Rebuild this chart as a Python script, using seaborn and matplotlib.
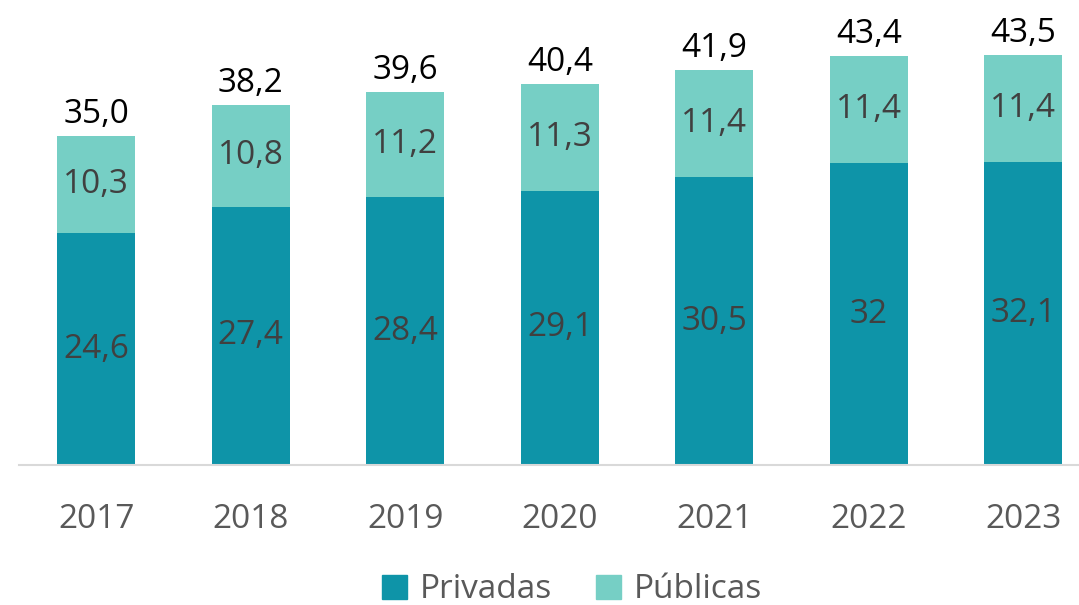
import matplotlib
matplotlib.use('Agg')
import matplotlib.pyplot as plt
import seaborn as sns
import pandas as pd
from matplotlib.patches import Patch

# Datos
anios = ['2017', '2018', '2019', '2020', '2021', '2022', '2023']
privadas = [24.6, 27.4, 28.4, 29.1, 30.5, 32.0, 32.1]
publicas = [10.3, 10.8, 11.2, 11.3, 11.4, 11.4, 11.4]
privadas_txt = ['24,6', '27,4', '28,4', '29,1', '30,5', '32', '32,1']
publicas_txt = ['10,3', '10,8', '11,2', '11,3', '11,4', '11,4', '11,4']
totales_txt = ['35,0', '38,2', '39,6', '40,4', '41,9', '43,4', '43,5']

col_priv = '#0E94A8'
col_pub = '#76CFC5'

sns.set_theme(style='white')
plt.rcParams['font.family'] = ['Open Sans', 'DejaVu Sans']

df = pd.DataFrame({'anio': anios, 'privadas': privadas, 'publicas': publicas})
df['total'] = df['privadas'] + df['publicas']

fig = plt.figure(figsize=(10.79, 6.05), dpi=100)
ax = fig.add_axes([19 / 1079, 140 / 605, 1060 / 1079, 462 / 605])

# Barras apiladas: total (Públicas) y encima Privadas
sns.barplot(data=df, x='anio', y='total', color=col_pub, width=0.505,
            saturation=1, linewidth=0, ax=ax)
sns.barplot(data=df, x='anio', y='privadas', color=col_priv, width=0.505,
            saturation=1, linewidth=0, ax=ax)

for i in range(len(anios)):
    ax.text(i, privadas[i] / 2, privadas_txt[i], ha='center', va='center',
            fontsize=24, color='#404040')
    ax.text(i, privadas[i] + publicas[i] / 2, publicas_txt[i], ha='center',
            va='center', fontsize=24, color='#404040')
    ax.text(i, df['total'][i] + 0.5, totales_txt[i], ha='center',
            va='bottom', fontsize=24, color='black')

ax.set_xlim(-0.5, 6.36)
ax.set_ylim(0, 49)
ax.set_xlabel('')
ax.set_ylabel('')
ax.set_yticks([])
for s in ['top', 'right', 'left']:
    ax.spines[s].set_visible(False)
ax.spines['bottom'].set_color('#D9D9D9')
ax.spines['bottom'].set_linewidth(1.5)
ax.tick_params(axis='x', length=0, pad=27, labelsize=24, labelcolor='#595959')

handles = [Patch(color=col_priv, label='Privadas'),
           Patch(color=col_pub, label='Públicas')]
fig.legend(handles=handles, loc='center', bbox_to_anchor=(0.53, 0.025),
           ncol=2, frameon=False, fontsize=24, labelcolor='#595959',
           handlelength=0.75, handleheight=0.75, handletextpad=0.4,
           columnspacing=1.3)

fig.savefig('out.png', dpi=100)
